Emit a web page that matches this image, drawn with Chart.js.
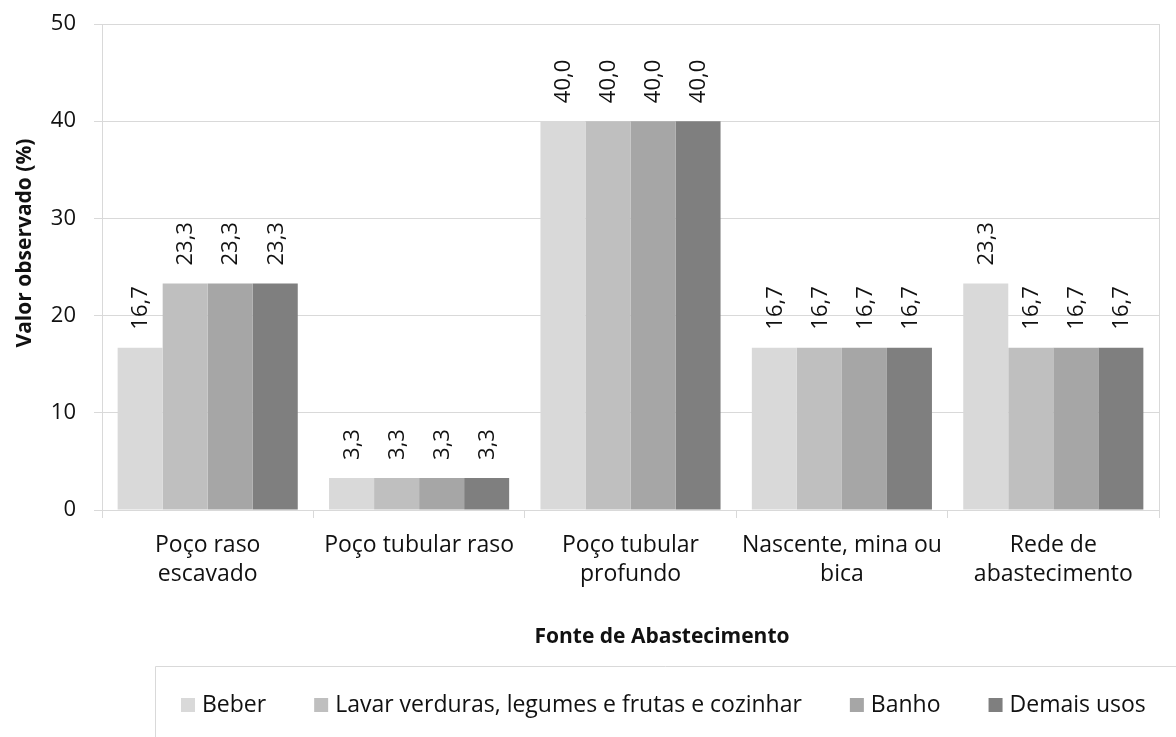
<!DOCTYPE html>
<html>
<head>
<meta charset="utf-8">
<script src="https://cdn.jsdelivr.net/npm/chart.js@4/dist/chart.umd.min.js"></script>
<style>
  html, body { margin: 0; padding: 0; background: #fff; }
  #wrap { width: 1176px; height: 737px; }
</style>
</head>
<body>
<div id="wrap"><canvas id="c" width="1176" height="737"></canvas></div>
<script>
const categories = [
  ["Poço raso", "escavado"],
  ["Poço tubular raso"],
  ["Poço tubular", "profundo"],
  ["Nascente, mina ou", "bica"],
  ["Rede de", "abastecimento"]
];
const seriesNames = ["Beber", "Lavar verduras, legumes e frutas e cozinhar", "Banho", "Demais usos"];
const beber  = [16.7, 3.3, 40.0, 16.7, 23.3];
const lavar  = [23.3, 3.3, 40.0, 16.7, 16.7];
const banho  = [23.3, 3.3, 40.0, 16.7, 16.7];
const demais = [23.3, 3.3, 40.0, 16.7, 16.7];
const seriesColors = ["#d9d9d9", "#bfbfbf", "#a6a6a6", "#7f7f7f"];
const yTicks = [0, 10, 20, 30, 40, 50];
const yTitle = "Valor observado (%)";
const xTitle = "Fonte de Abastecimento";

const FONT = '"Open Sans", "Liberation Sans", sans-serif';
const GRID = '#d9d9d9';
const TEXT = '#111';

const fmt = v => v.toFixed(1).replace('.', ',');

const extras = {
  id: 'extras',
  afterDatasetsDraw(chart) {
    const ctx = chart.ctx;
    ctx.save();
    ctx.fillStyle = TEXT;
    ctx.font = '22px ' + FONT;
    ctx.textAlign = 'left';
    ctx.textBaseline = 'middle';
    chart.data.datasets.forEach((ds, i) => {
      const meta = chart.getDatasetMeta(i);
      meta.data.forEach((bar, j) => {
        ctx.save();
        ctx.translate(bar.x, bar.y - 18);
        ctx.rotate(-Math.PI / 2);
        ctx.fillText(fmt(ds.data[j]), 0, 1);
        ctx.restore();
      });
    });
    ctx.restore();
  },
  afterDraw(chart) {
    const ctx = chart.ctx;
    const a = chart.chartArea;
    ctx.save();
    // right border of plot area
    ctx.strokeStyle = GRID;
    ctx.lineWidth = 1;
    ctx.beginPath();
    ctx.moveTo(Math.round(a.right) + 0.5, a.top);
    ctx.lineTo(Math.round(a.right) + 0.5, a.bottom);
    ctx.stroke();

    // axis titles
    ctx.fillStyle = TEXT;
    ctx.font = 'bold 21px ' + FONT;
    ctx.textAlign = 'center';
    ctx.textBaseline = 'middle';
    ctx.fillText(xTitle, 662, 637);
    ctx.save();
    ctx.translate(25, 243);
    ctx.rotate(-Math.PI / 2);
    ctx.fillText(yTitle, 0, 0);
    ctx.restore();

    // legend box
    ctx.strokeStyle = GRID;
    ctx.beginPath();
    ctx.moveTo(155.5, 737);
    ctx.lineTo(155.5, 666.5);
    ctx.lineTo(1176, 666.5);
    ctx.stroke();

    // legend entries
    ctx.font = '23px ' + FONT;
    ctx.textAlign = 'left';
    ctx.textBaseline = 'middle';
    let x = 181;
    const y = 705;
    chart.data.datasets.forEach(ds => {
      ctx.fillStyle = ds.backgroundColor;
      ctx.fillRect(x, y - 7, 14, 14);
      x += 21;
      ctx.fillStyle = TEXT;
      ctx.fillText(ds.label, x, y);
      x += ctx.measureText(ds.label).width + 48;
    });
    ctx.restore();
  }
};

const datasets = [beber, lavar, banho, demais].map((d, i) => ({
  label: seriesNames[i],
  data: d,
  backgroundColor: seriesColors[i],
  borderWidth: 0,
  categoryPercentage: 0.852,
  barPercentage: 1.0
}));

new Chart(document.getElementById('c'), {
  type: 'bar',
  data: { labels: categories, datasets },
  options: {
    responsive: false,
    devicePixelRatio: 1,
    animation: false,
    layout: { padding: { left: 0, right: 17, top: 24, bottom: 0 } },
    plugins: { legend: { display: false }, tooltip: { enabled: false }, title: { display: false } },
    scales: {
      x: {
        offset: true,
        grid: { offset: true, drawOnChartArea: false, drawTicks: true, tickLength: 8, color: GRID, lineWidth: 1 },
        border: { display: true, color: GRID, width: 1 },
        ticks: {
          color: TEXT,
          font: { family: FONT, size: 23, lineHeight: 1.27 },
          padding: 13,
          maxRotation: 0,
          autoSkip: false
        },
        afterFit(s) { s.height = 227; }
      },
      y: {
        min: 0, max: 50,
        afterBuildTicks(s) { s.ticks = yTicks.map(v => ({ value: v })); },
        grid: { color: GRID, lineWidth: 1, tickLength: 8, drawTicks: true },
        border: { display: true, color: GRID, width: 1 },
        ticks: {
          color: TEXT,
          font: { family: FONT, size: 22 },
          padding: 18
        },
        afterFit(s) { s.width = 102; s.paddingTop = 0; s.paddingBottom = 0; }
      }
    }
  },
  plugins: [extras]
});
</script>
</body>
</html>
